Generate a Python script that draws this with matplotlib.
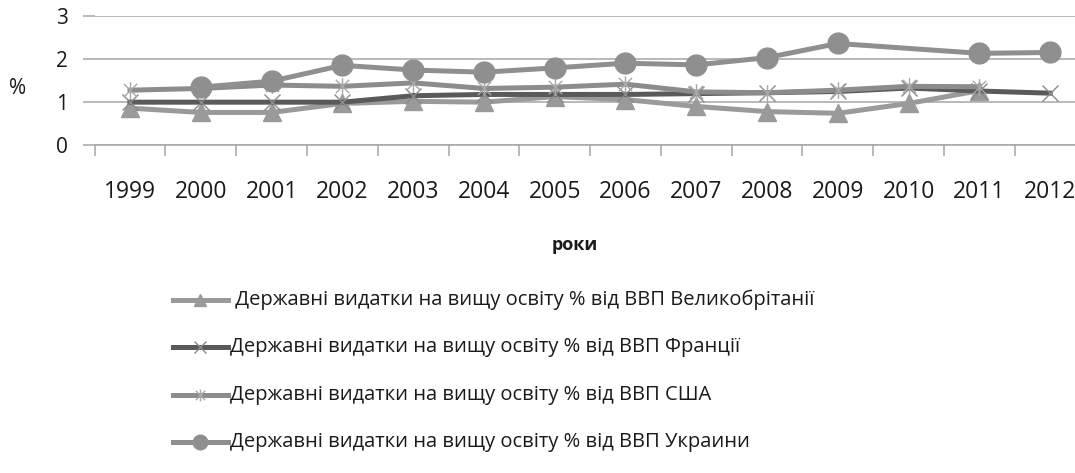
import numpy as np
import matplotlib
matplotlib.use("Agg")
import matplotlib.pyplot as plt
from matplotlib.path import Path
from matplotlib.lines import Line2D

plt.rcParams['font.family'] = ['Open Sans', 'DejaVu Sans']

years = ['1999', '2000', '2001', '2002', '2003', '2004', '2005', '2006',
         '2007', '2008', '2009', '2010', '2011', '2012']
uk = [0.86, 0.76, 0.76, 0.97, 1.02, 1.00, 1.13, 1.06, 0.90, 0.78, 0.74, 0.97, 1.27, np.nan]
france = [1.00, 1.00, 1.00, 1.00, 1.15, 1.18, 1.18, 1.18, 1.20, 1.22, 1.25, 1.33, 1.26, 1.21]
usa = [1.28, 1.32, 1.40, 1.37, 1.45, 1.32, 1.35, 1.42, 1.24, 1.22, 1.28, 1.37, 1.36, np.nan]
ukraine = [np.nan, 1.35, 1.49, 1.86, 1.75, 1.70, 1.80, 1.91, 1.87, 2.04, 2.37, np.nan, 2.14, 2.16]
labels = [' Державні видатки на вищу освіту % від ВВП Великобрітанії',
          'Державні видатки на вищу освіту % від ВВП Франції',
          'Державні видатки на вищу освіту % від ВВП США',
          'Державні видатки на вищу освіту % від ВВП Украини']
y_ticks = [0, 1, 2, 3]

star = Path([(-1, -1), (1, 1), (-1, 1), (1, -1), (0, -1.25), (0, 1.25)],
            [Path.MOVETO, Path.LINETO, Path.MOVETO, Path.LINETO, Path.MOVETO, Path.LINETO])

styles = [
    dict(color='#9a9a9a', marker='^', ms=13, mfc='#9a9a9a', mec='#9a9a9a', mew=1),
    dict(color='#5a5a5a', marker='x', ms=12, mfc='none', mec='#8a8a8a', mew=1.0),
    dict(color='#8c8c8c', marker=star, ms=12, mfc='none', mec='#a8a8a8', mew=1.0),
    dict(color='#8f8f8f', marker='o', ms=15, mfc='#8f8f8f', mec='#8f8f8f', mew=1),
]

W, H = 1075, 473
fig = plt.figure(figsize=(W / 100, H / 100), dpi=100)
ax = fig.add_axes([94.6 / W, 1 - 145 / H, 991 / W, (145 - 16.5) / H])

x = np.arange(len(years))
for vals, st in zip([uk, france, usa, ukraine], styles):
    v = np.array(vals, dtype=float)
    m = ~np.isnan(v)
    ax.plot(x[m], v[m], lw=3.6, solid_joinstyle='round', zorder=3, **st)

ax.set_xlim(-0.5, len(years) - 0.5)
ax.set_ylim(0, 3)
ax.set_yticks(y_ticks)
ax.set_yticklabels([str(t) for t in y_ticks], fontsize=15, color='#1a1a1a')
ax.yaxis.grid(True, color='#a6a6a6', lw=1.1)
ax.set_axisbelow(True)
ax.tick_params(axis='y', length=9, color='#a6a6a6', pad=10, width=1.1)

ax.set_xticks(np.arange(-0.5, len(years)), minor=False)
ax.set_xticklabels([])
ax.set_xticks(x, minor=True)
ax.set_xticklabels(years, minor=True, fontsize=16.5, color='#1a1a1a')
ax.tick_params(axis='x', which='major', length=8, color='#a6a6a6', width=1.1, direction='out')
ax.tick_params(axis='x', which='minor', length=0, pad=25)

for s in ['left', 'right', 'top']:
    ax.spines[s].set_visible(False)
ax.spines['bottom'].set_color('#a6a6a6')
ax.spines['bottom'].set_linewidth(1.1)

fig.text(18 / W, 1 - 88 / H, '%', fontsize=15, ha='center', va='center', color='#1a1a1a')
fig.text(575 / W, 1 - 245 / H, 'роки', fontsize=13, fontweight='bold', ha='center', va='center', color='#1a1a1a')

leg_y = [300, 347, 395, 442]
for yy, lab, st in zip(leg_y, labels, styles):
    yf = 1 - yy / H
    fig.add_artist(Line2D([173 / W, 228 / W], [yf, yf], transform=fig.transFigure,
                          color=st['color'], lw=3.6))
    fig.add_artist(Line2D([200 / W], [yf], transform=fig.transFigure, color=st['color'],
                          marker=st['marker'], ms=st['ms'] * 0.7, mfc=st['mfc'], mec=st['mec'],
                          mew=st['mew'], lw=0))
    fig.text(230 / W, yf, lab, fontsize=14.5, ha='left', va='center', color='#1a1a1a')

fig.savefig('out.png', dpi=100)
